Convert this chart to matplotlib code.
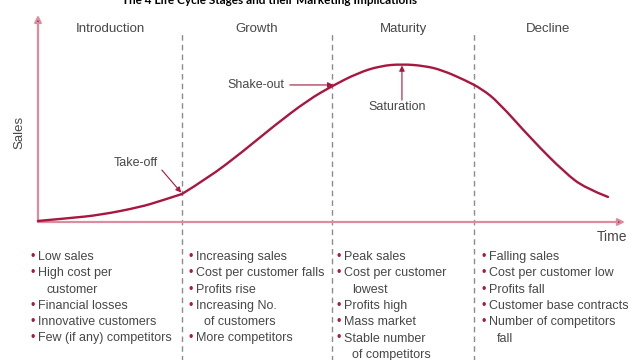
" product life cycle chart "
import matplotlib.pyplot as plt
from matplotlib.path import Path
from matplotlib.patches import PathPatch
from matplotlib.transforms import blended_transform_factory

plt.rcParams['font.family'] = ['Liberation Sans', 'DejaVu Sans']

# curve (time and sales on 0-100 scales)
time = [0, 5.5, 10.6, 17.4, 20.8, 24.5, 29.0, 34.8, 40.4, 46.0, 50.1, 54.5,
        58.3, 62.0, 65.9, 68.8, 72.7, 75.6, 78.4, 84.2, 89.8, 93.2, 97.1]
sales = [0.5, 1.9, 3.4, 7.2, 10.1, 13.5, 21.3, 33.8, 46.9, 58.9, 65.7, 72.0,
         75.4, 76.3, 75.4, 73.4, 68.6, 64.3, 58.0, 39.6, 23.7, 16.4, 12.1]
takeoff = 5  # index of the take-off point (sharp corner)

stages = ["Introduction", "Growth", "Maturity", "Decline"]
stage_edges = [0, 24.5, 50.1, 74.3, 99.5]

bullets = [
    ["Low sales", "High cost per\ncustomer", "Financial losses",
     "Innovative customers", "Few (if any) competitors"],
    ["Increasing sales", "Cost per customer falls", "Profits rise",
     "Increasing No.\nof customers", "More competitors"],
    ["Peak sales", "Cost per customer\nlowest", "Profits high",
     "Mass market", "Stable number\nof competitors"],
    ["Falling sales", "Cost per customer low", "Profits fall",
     "Customer base contracts", "Number of competitors\nfall"],
]

title = "The 4 Life Cycle Stages and their Marketing Implications"

CURVE = "#a8173f"
AXIS = "#dc8ca0"
TEXT = "#474747"
DASH = "#8c8c8c"


def smooth_path(pts):
    # quadratic segments through the midpoints of the read points
    verts = [pts[0], pts[0]]
    codes = [Path.MOVETO, Path.LINETO]
    for i in range(1, len(pts) - 1):
        nxt = ((pts[i][0] + pts[i + 1][0]) / 2,
               (pts[i][1] + pts[i + 1][1]) / 2)
        if i == len(pts) - 2:
            nxt = pts[-1]
        verts += [pts[i], nxt]
        codes += [Path.CURVE3, Path.CURVE3]
    return Path(verts, codes)


fig = plt.figure(figsize=(6.4, 3.6), dpi=100)
ax = fig.add_axes([38/640, 138/360, 587/640, 207/360])
ax.set_xlim(0, 100)
ax.set_ylim(0, 100)
ax.axis("off")

# axes arrows
for tip in [(0, 1), (1, 0)]:
    ax.annotate("", xy=tip, xytext=(0, 0), xycoords="axes fraction",
                arrowprops=dict(arrowstyle="-|>", color=AXIS, lw=1.6,
                                mutation_scale=10, shrinkA=0, shrinkB=0,
                                fc=CURVE, ec=AXIS))

# stage boundaries
for b in stage_edges[1:-1]:
    ax.plot([b, b], [-67, 92], ls=(0, (4, 3)), color=DASH, lw=1,
            clip_on=False, zorder=1)

pts = list(zip(time, sales))
for part in [pts[:takeoff + 1], pts[takeoff:]]:
    ax.add_patch(PathPatch(smooth_path(part), fc="none", ec=CURVE, lw=1.7,
                           capstyle="round", joinstyle="round",
                           clip_on=False, zorder=3))

for i, s in enumerate(stages):
    mid = (stage_edges[i] + stage_edges[i + 1]) / 2
    ax.text(mid, 93.2, s, ha="center", va="center", fontsize=9.5, color=TEXT)

ax.text(-3.1, 43.5, "Sales", rotation=90, ha="center", va="center",
        fontsize=9.5, color=TEXT)
ax.text(100.3, -7.2, "Time", ha="right", va="center", fontsize=10, color=TEXT)

# annotations
arr = dict(arrowstyle="-|>", color=CURVE, lw=0.8, mutation_scale=8,
           shrinkA=0, shrinkB=0)
ax.text(16.7, 28.5, "Take-off", ha="center", va="center", fontsize=9,
        color=TEXT)
ax.annotate("", xy=(24.4, 14.2), xytext=(21.1, 25.1), arrowprops=arr)
ax.text(37.1, 66.2, "Shake-out", ha="center", va="center", fontsize=9,
        color=TEXT)
ax.annotate("", xy=(50.3, 66.2), xytext=(42.9, 66.2), arrowprops=arr)
ax.text(61.2, 55.6, "Saturation", ha="center", va="center", fontsize=9,
        color=TEXT)
ax.annotate("", xy=(62.0, 75.6), xytext=(62.0, 58.9), arrowprops=arr)

# bullet lists below the chart
tr = blended_transform_factory(ax.transData, fig.transFigure)
bullet_x = [-1.2, 25.7, 50.9, 75.6]
for col, items in zip(bullet_x, bullets):
    row = 0
    for item in items:
        for j, line in enumerate(item.split("\n")):
            y = 1 - (257 + 16.3 * row) / 360
            if j == 0:
                ax.text(col, y, "\u2022", transform=tr, ha="left",
                        va="center", fontsize=9, color=CURVE, clip_on=False)
                x = col + 1.2
            else:
                x = col + 2.6
            ax.text(x, y, line, transform=tr, ha="left", va="center",
                    fontsize=9, color=TEXT, clip_on=False)
            row += 1

fig.text(270/640, 1 - 4/360, title, ha="center", va="baseline",
         fontweight="bold", fontsize=8.5, family=["Lato", "DejaVu Sans"])

fig.savefig("out.png", dpi=100)
